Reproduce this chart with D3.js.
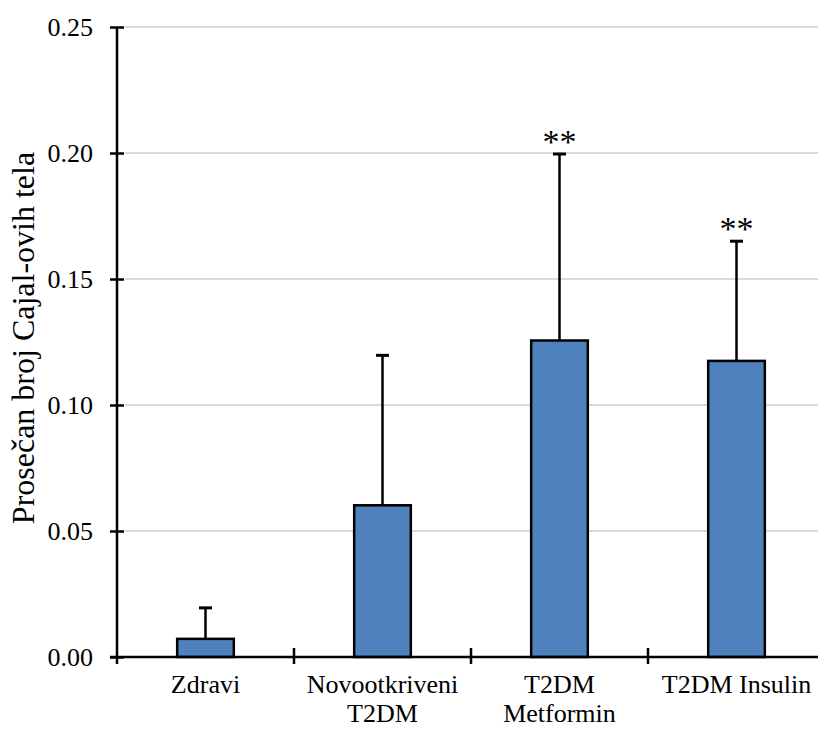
<!DOCTYPE html>
<html>
<head>
<meta charset="utf-8">
<script src="https://cdn.jsdelivr.net/npm/d3@7"></script>
<style>
  html, body { margin: 0; padding: 0; background: #fff; }
  svg { display: block; }
  text { font-family: "Liberation Serif", "Times New Roman", serif; fill: #000; }
</style>
</head>
<body>
<svg id="chart" width="818" height="729"></svg>
<script>
// Mean number of Cajal bodies per group, with SD error bars
const categories = [["Zdravi"], ["Novootkriveni", "T2DM"], ["T2DM", "Metformin"], ["T2DM Insulin"]];
const means = [0.0072, 0.0602, 0.1256, 0.1175];
const errors = [0.0123, 0.0595, 0.0740, 0.0475];
const significance = ["", "", "**", "**"];
const yTicks = [0, 0.05, 0.10, 0.15, 0.20, 0.25];
const yTitle = "Prosečan broj Cajal-ovih tela";

const svg = d3.select("#chart");
const plotLeft = 117, plotRight = 825, plotTop = 27, plotBottom = 657;

const keys = categories.map(c => c.join(" "));
const x = d3.scaleBand().domain(keys).range([plotLeft, plotRight]);
const y = d3.scaleLinear().domain([0, 0.25]).range([plotBottom, plotTop]);
const barW = x.bandwidth() * 0.32;
const cx = k => x(k) + x.bandwidth() / 2;

// horizontal gridlines
svg.append("g")
  .selectAll("line")
  .data(yTicks.filter(d => d > 0))
  .join("line")
  .attr("x1", plotLeft + 8).attr("x2", plotRight)
  .attr("y1", d => y(d)).attr("y2", d => y(d))
  .attr("stroke", "#d9d9d9").attr("stroke-width", 2);

const groups = svg.append("g").selectAll("g")
  .data(keys.map((k, i) => ({ k, m: means[i], e: errors[i], s: significance[i] })))
  .join("g");

// error bars (upper only)
groups.append("line")
  .attr("x1", d => cx(d.k)).attr("x2", d => cx(d.k))
  .attr("y1", d => y(d.m)).attr("y2", d => y(d.m + d.e))
  .attr("stroke", "#000").attr("stroke-width", 2.5);
groups.append("line")
  .attr("x1", d => cx(d.k) - 6.5).attr("x2", d => cx(d.k) + 6.5)
  .attr("y1", d => y(d.m + d.e)).attr("y2", d => y(d.m + d.e))
  .attr("stroke", "#000").attr("stroke-width", 3);

// bars
groups.append("rect")
  .attr("x", d => cx(d.k) - barW / 2)
  .attr("width", barW)
  .attr("y", d => y(d.m))
  .attr("height", d => y(0) - y(d.m))
  .attr("fill", "#4f81bd")
  .attr("stroke", "#000").attr("stroke-width", 2.5);

// significance markers
groups.append("text")
  .attr("x", d => cx(d.k))
  .attr("y", d => y(d.m + d.e) - 1)
  .attr("text-anchor", "middle")
  .style("font-size", "34px")
  .text(d => d.s);

// y axis
const yAxis = svg.append("g")
  .attr("transform", `translate(${plotLeft},0)`)
  .call(d3.axisLeft(y).tickValues(yTicks).tickFormat(d3.format(".2f")).tickSize(7).tickPadding(17));
yAxis.select(".domain").attr("stroke", "#000").attr("stroke-width", 2.5).attr("d", `M0,${plotTop}V${plotBottom}`);
yAxis.selectAll(".tick line").attr("x1", -7).attr("x2", 7).attr("stroke", "#000").attr("stroke-width", 2.5);
yAxis.selectAll(".tick text").style("font-size", "26px").style("font-family", "Liberation Serif, serif").attr("dy", "0.34em");

// x axis with category separators
const xAxis = svg.append("g")
  .attr("transform", `translate(0,${plotBottom})`);
xAxis.append("line")
  .attr("x1", plotLeft - 7).attr("x2", plotRight)
  .attr("stroke", "#000").attr("stroke-width", 2.5);
xAxis.selectAll("line.sep")
  .data(keys.slice(1))
  .join("line").attr("class", "sep")
  .attr("x1", d => x(d)).attr("x2", d => x(d))
  .attr("y1", -9).attr("y2", 7)
  .attr("stroke", "#000").attr("stroke-width", 2.5);
xAxis.append("line")
  .attr("x1", plotLeft).attr("x2", plotLeft).attr("y1", 0).attr("y2", 7)
  .attr("stroke", "#000").attr("stroke-width", 2.5);

const labels = xAxis.selectAll("text.cat")
  .data(categories.map((c, i) => ({ lines: c, k: keys[i] })))
  .join("text").attr("class", "cat")
  .attr("text-anchor", "middle")
  .style("font-size", "26px");
labels.selectAll("tspan")
  .data(d => d.lines.map((l, j) => ({ l, j, k: d.k })))
  .join("tspan")
  .attr("x", d => cx(d.k))
  .attr("y", d => 36 + d.j * 29)
  .text(d => d.l);

// y axis title
svg.append("text")
  .attr("transform", "translate(34,338) rotate(-90)")
  .attr("text-anchor", "middle")
  .style("font-size", "32px")
  .text(yTitle);
</script>
</body>
</html>
